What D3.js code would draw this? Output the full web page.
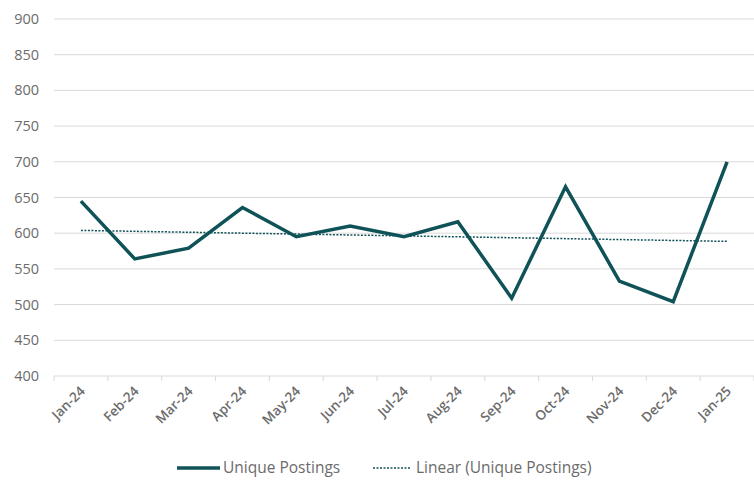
<!DOCTYPE html>
<html><head><meta charset="utf-8">
<script src="https://cdn.jsdelivr.net/npm/d3@7"></script>
<style>body{margin:0;background:#fff}svg text{font-family:"Open Sans","Noto Sans",sans-serif;fill:#6b6b6b}</style>
</head><body><svg id="c" width="754" height="481"></svg>
<script>
const categories = ["Jan-24","Feb-24","Mar-24","Apr-24","May-24","Jun-24","Jul-24","Aug-24","Sep-24","Oct-24","Nov-24","Dec-24","Jan-25"];
const uniquePostings = [645,564,579,636,595,610,595,616,509,665,533,504,700];
const yTicks = [400,450,500,550,600,650,700,750,800,850,900];
const seriesName = "Unique Postings";
const trendName = "Linear (Unique Postings)";

(function(){
const svg = d3.select("#c");
const mL = 54, mR = 754, mT = 19, mB = 376;
const x = d3.scaleBand().domain(categories).range([mL, mR]);
const y = d3.scaleLinear().domain([400, 900]).range([mB, mT]);
const teal = "#0f5257";

svg.append("g").selectAll("line").data(yTicks.filter(d => d > 400)).join("line")
  .attr("x1", mL).attr("x2", mR).attr("y1", d => y(d)).attr("y2", d => y(d))
  .attr("stroke", "#d9d9d9").attr("stroke-width", 1);

svg.append("g").selectAll("text").data(yTicks).join("text")
  .attr("x", 39).attr("y", d => y(d)).attr("dy", "0.35em").attr("text-anchor", "end")
  .attr("font-size", 14.5).text(d => d);

svg.append("line").attr("x1", mL).attr("x2", mR).attr("y1", mB).attr("y2", mB)
  .attr("stroke", "#d9d9d9").attr("stroke-width", 1);
const tickPos = categories.map(c => x(c)).concat([mR]);
svg.append("g").selectAll("line").data(tickPos).join("line")
  .attr("x1", d => d).attr("x2", d => d).attr("y1", mB).attr("y2", mB + 5)
  .attr("stroke", "#d9d9d9");

svg.append("g").selectAll("text").data(categories).join("text")
  .attr("transform", d => `translate(${x(d) + x.bandwidth()/2 + 5},${mB + 16}) rotate(-45)`)
  .attr("text-anchor", "end").attr("font-size", 13.5).attr("font-weight", 600).text(d => d);

const n = uniquePostings.length;
const xs = d3.range(n);
const mx = d3.mean(xs), my = d3.mean(uniquePostings);
const slope = d3.sum(xs, i => (i - mx) * (uniquePostings[i] - my)) / d3.sum(xs, i => (i - mx) ** 2);
const icpt = my - slope * mx;
const cx = c => x(c) + x.bandwidth() / 2;
svg.append("line")
  .attr("x1", cx(categories[0])).attr("y1", y(icpt))
  .attr("x2", cx(categories[n-1])).attr("y2", y(icpt + slope * (n-1)))
  .attr("stroke", teal).attr("stroke-width", 1.5).attr("stroke-dasharray", "2,1.5");

const line = d3.line().x((d, i) => cx(categories[i])).y(d => y(d));
svg.append("path").datum(uniquePostings).attr("d", line)
  .attr("fill", "none").attr("stroke", teal).attr("stroke-width", 3.5).attr("stroke-linejoin", "miter");

const lg = svg.append("g");
lg.append("line").attr("x1", 177).attr("x2", 220).attr("y1", 468).attr("y2", 468)
  .attr("stroke", teal).attr("stroke-width", 3.5);
lg.append("text").attr("x", 223).attr("y", 468).attr("dy", "0.35em").attr("font-size", 15.5).text(seriesName);
lg.append("line").attr("x1", 373).attr("x2", 410).attr("y1", 468).attr("y2", 468)
  .attr("stroke", teal).attr("stroke-width", 1.5).attr("stroke-dasharray", "2,1.5");
lg.append("text").attr("x", 416).attr("y", 468).attr("dy", "0.35em").attr("font-size", 15.5).text(trendName);
})();
</script></body></html>
